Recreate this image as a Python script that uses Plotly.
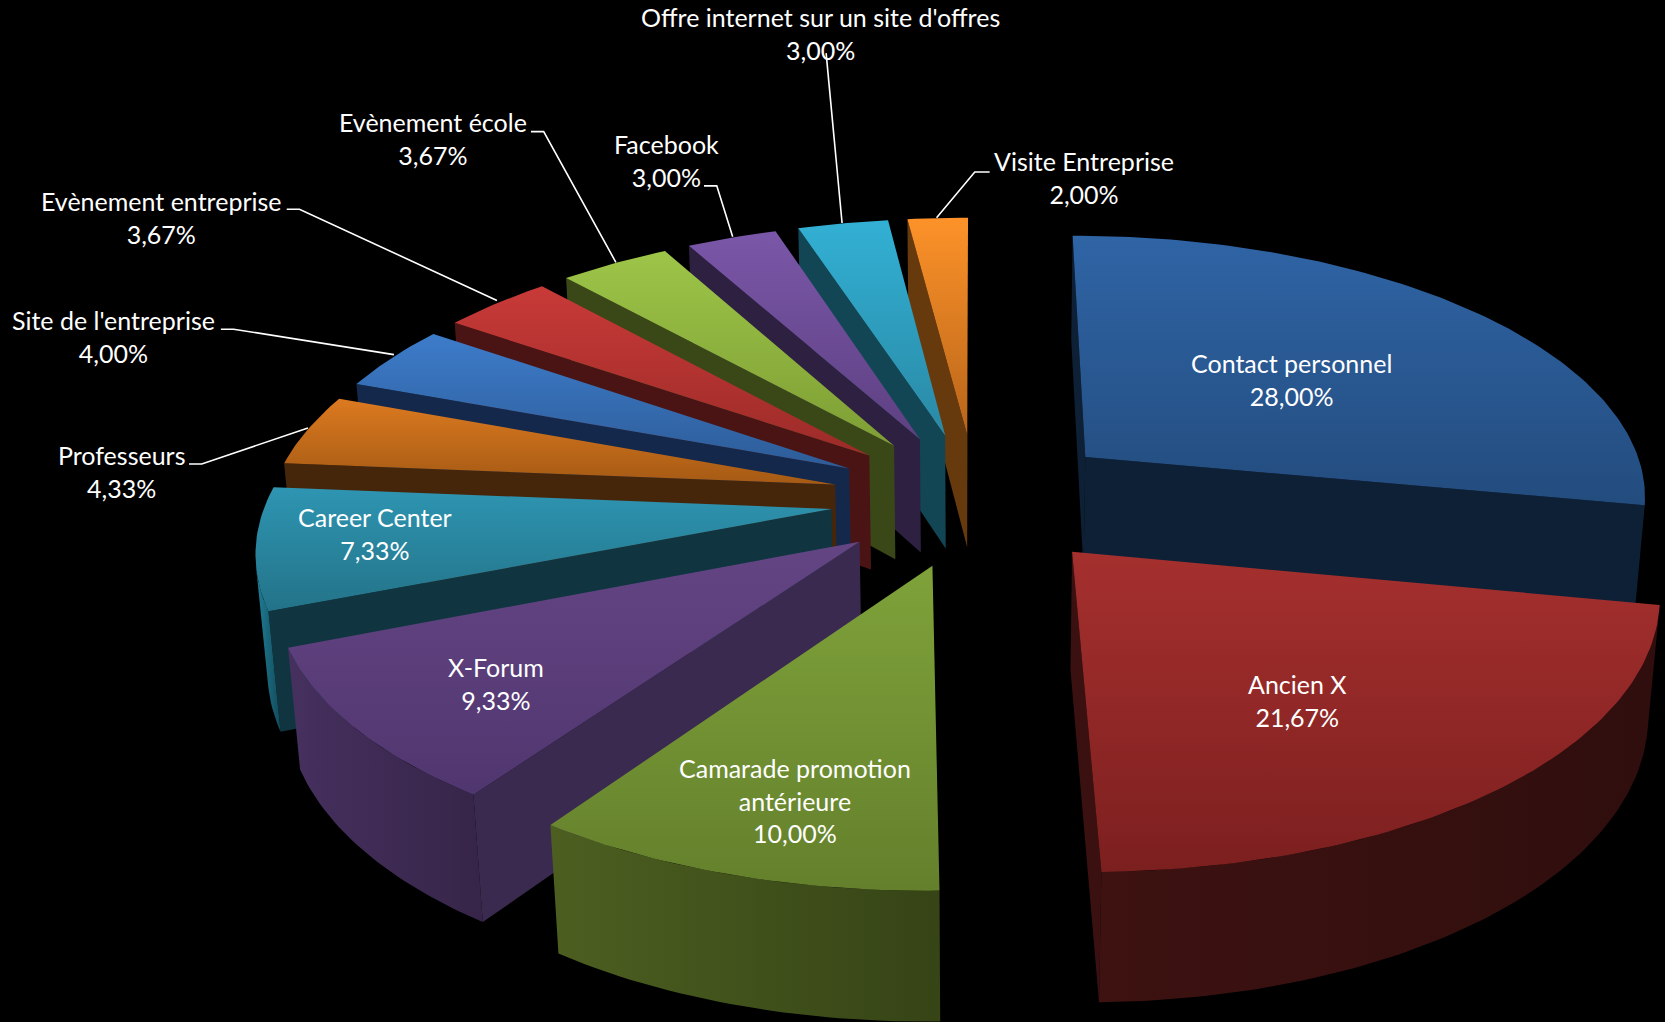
import math
import plotly.graph_objects as go

CATEGORIES = ["Contact personnel", "Ancien X", "Camarade promotion<br>antérieure", "X-Forum",
              "Career Center", "Professeurs", "Site de l'entreprise", "Evènement entreprise",
              "Evènement école", "Facebook", "Offre internet sur un site d'offres", "Visite Entreprise"]
VALUES = [28.00, 21.67, 10.00, 9.33, 7.33, 4.33, 4.00, 3.67, 3.67, 3.00, 3.00, 2.00]

TOP_LIGHT = ["#2f64a5", "#a5302e", "#7fa23a", "#644584", "#2e95b2", "#dc7a20", "#3d7cca", "#c83a38", "#9dc548", "#7a57a8", "#32b0d4", "#fd9229"]
TOP_DARK = ["#234c7e", "#7c1f1f", "#64802c", "#50366f", "#237388", "#a55a14", "#2d5c98", "#9c2b28", "#7e9e34", "#5e4082", "#2a89a5", "#b8651a"]
EDGE = ["#0e2036", "#3a1110", "#34420f", "#3a2a50", "#103540", "#46260b", "#13284a", "#4a1414", "#3a4818", "#2e2040", "#124655", "#673a0e"]
RIM_LIGHT = ["#10243c", "#3d1211", "#4c5f20", "#46305f", "#1f7f98", "#46260b", "#13284a", "#4a1414", "#3a4818", "#2e2040", "#124655", "#673a0e"]
RIM_DARK = ["#0d1d30", "#2f0e0d", "#364416", "#362548", "#134a5a", "#46260b", "#13284a", "#4a1414", "#3a4818", "#2e2040", "#124655", "#673a0e"]

W, H = 1665, 1022
UNIT = 1665 / 1568
PULL = 0.257
THICK = 0.235
DIST = 6.6
ELEV = math.radians(27.6)
G = 532 * UNIT
CX, CY = 919 * UNIT, 470 * UNIT
COS, SIN = math.cos(ELEV), math.sin(ELEV)


def project(x, y, z):
    depth = 1 + (y * COS - z * SIN) / DIST
    sx = CX + G * x / depth
    sy = CY - G * (y * SIN + z * COS) / depth
    return sx, H - sy


def faces_camera(px, py, pz, nx, ny, nz):
    return (0 - px) * nx + (-DIST * COS - py) * ny + (DIST * SIN - pz) * nz > 0


def polygon(points, name, kind, c0, c1):
    pts = [project(*p) for p in points]
    xs = [p[0] for p in pts] + [pts[0][0]]
    ys = [p[1] for p in pts] + [pts[0][1]]
    return go.Scatter(
        x=xs, y=ys, mode="lines", fill="toself", name=name.replace("<br>", " "),
        line=dict(width=0, color=c0),
        fillgradient=dict(type=kind, colorscale=[[0, c0], [1, c1]]),
        hoverinfo="skip", showlegend=False,
    )


total = sum(VALUES)
slices = []
start = 0.0
for i, v in enumerate(VALUES):
    a0 = start / total * 2 * math.pi
    a1 = (start + v) / total * 2 * math.pi
    start += v
    mid = (a0 + a1) / 2
    slices.append((i, a0, a1, PULL * math.sin(mid), PULL * math.cos(mid)))

fig = go.Figure()
for i, a0, a1, ox, oy in sorted(slices, key=lambda s: -s[4]):
    name = CATEGORIES[i]
    n = max(8, int((a1 - a0) * 60))
    angs = [a0 + (a1 - a0) * k / n for k in range(n + 1)]
    rim = [(ox + math.sin(a), oy + math.cos(a)) for a in angs]
    tip = (ox, oy)
    # straight side walls
    for ang, sign in ((a0, -1), (a1, 1)):
        nx, ny = sign * math.cos(ang), -sign * math.sin(ang)
        ex, ey = ox + math.sin(ang), oy + math.cos(ang)
        if faces_camera(ex, ey, 0, nx, ny, 0):
            fig.add_trace(polygon([(ox, oy, 0), (ex, ey, 0), (ex, ey, -THICK), (ox, oy, -THICK)],
                                  name, "horizontal", EDGE[i], EDGE[i]))
    # curved wall, only the part turned towards the viewer
    run = []
    runs = []
    for a, (rx, ry) in zip(angs, rim):
        if faces_camera(rx, ry, 0, math.sin(a), math.cos(a), 0):
            run.append((rx, ry))
        elif run:
            runs.append(run)
            run = []
    if run:
        runs.append(run)
    for r in runs:
        if len(r) > 1:
            poly = [(x, y, 0) for x, y in r] + [(x, y, -THICK) for x, y in reversed(r)]
            fig.add_trace(polygon(poly, name, "horizontal", RIM_LIGHT[i], RIM_DARK[i]))
    # top face
    poly = [(tip[0], tip[1], 0)] + [(x, y, 0) for x, y in rim]
    fig.add_trace(polygon(poly, name, "vertical", TOP_DARK[i], TOP_LIGHT[i]))

# label anchors and leader lines, in reference pixels
LABEL_AT = [(1216, 357), (1222, 660), (749, 754), (467, 644), (353, 502), (114, 444),
            (107, 317), (152, 205), (408, 130), (628, 151), (773, 32), (1021, 167)]
LEADERS = {
    5: [(290, 403), (190, 437), (178, 437)],
    6: [(371, 334), (220, 310), (208, 310)],
    7: [(468, 283), (282, 197), (270, 197)],
    8: [(580, 247), (512, 124), (500, 124)],
    9: [(690, 223), (675, 175), (663, 175)],
    10: [(793, 210), (778, 50)],
    11: [(882, 205), (918, 162), (932, 162)],
}
for i, pts in LEADERS.items():
    fig.add_trace(go.Scatter(
        x=[p[0] * UNIT for p in pts], y=[H - p[1] * UNIT for p in pts], mode="lines",
        line=dict(color="#ffffff", width=1.6), hoverinfo="skip", showlegend=False,
    ))

for name, v, (lx, ly) in zip(CATEGORIES, VALUES, LABEL_AT):
    pct = f"{v:.2f}".replace(".", ",") + "%"
    fig.add_annotation(x=lx * UNIT, y=H - ly * UNIT, text=f"{name}<br>{pct}", showarrow=False,
                       font=dict(family="Lato", size=25, color="#ffffff"), align="center")

fig.update_layout(
    width=W, height=H, margin=dict(l=0, r=0, t=0, b=0),
    paper_bgcolor="#000000", plot_bgcolor="#000000", showlegend=False,
    xaxis=dict(range=[0, W], visible=False, fixedrange=True),
    yaxis=dict(range=[0, H], visible=False, fixedrange=True),
)
fig.write_html(
    "out.html", config={"displayModeBar": False},
    post_script="document.body.style.margin='0';document.body.style.background='#000';document.body.style.overflow='hidden';",
)
